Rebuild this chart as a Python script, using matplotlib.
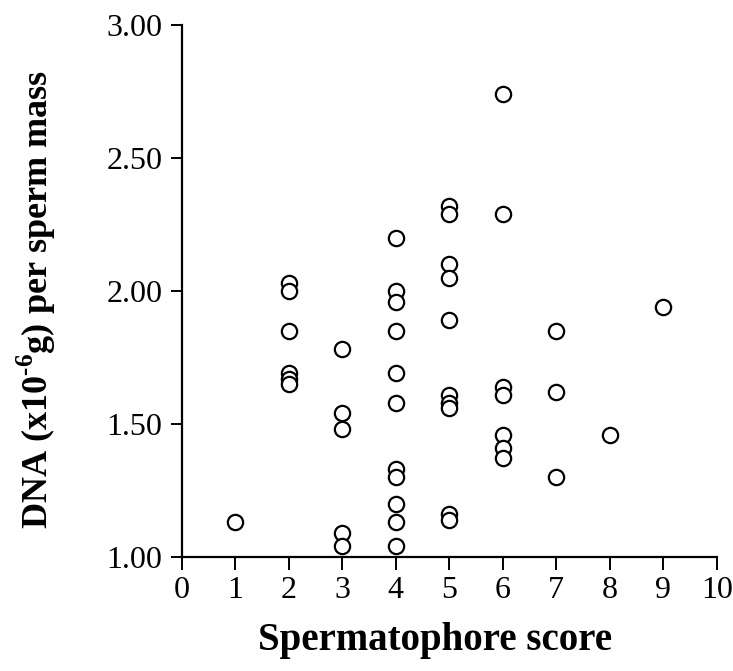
import numpy as np
import matplotlib
matplotlib.use('Agg')
import matplotlib.pyplot as plt

# 서체 설정 (Times 비슷한 세리프)
plt.rcParams['font.family'] = 'Liberation Serif'
plt.rcParams['mathtext.fontset'] = 'custom'
plt.rcParams['mathtext.rm'] = 'Liberation Serif:bold'
plt.rcParams['mathtext.bf'] = 'Liberation Serif:bold'

# 데이터: 점수별 DNA 값
score_1 = [1.13]
score_2 = [2.03, 2.00, 1.85, 1.69, 1.67, 1.65]
score_3 = [1.78, 1.54, 1.48, 1.09, 1.04]
score_4 = [2.20, 2.00, 1.96, 1.85, 1.69, 1.58, 1.33, 1.30, 1.20, 1.13, 1.04]
score_5 = [2.32, 2.29, 2.10, 2.05, 1.89, 1.61, 1.58, 1.56, 1.16, 1.14]
score_6 = [2.74, 2.29, 1.64, 1.61, 1.46, 1.41, 1.37]
score_7 = [1.85, 1.62, 1.30]
score_8 = [1.46]
score_9 = [1.94]

groups = [score_1, score_2, score_3, score_4, score_5,
          score_6, score_7, score_8, score_9]
scores = [1, 2, 3, 4, 5, 6, 7, 8, 9]

x_vals = []
y_vals = []
for s, g in zip(scores, groups):
    x_vals += [s] * len(g)
    y_vals += g

fig = plt.figure(figsize=(7.33, 6.71), dpi=100)
ax = fig.add_axes([0.248, 0.170, 0.730, 0.793])

ax.plot(x_vals, y_vals, 'o', markersize=11, markerfacecolor='white',
        markeredgecolor='black', markeredgewidth=1.6, linestyle='none',
        clip_on=False, zorder=5)

ax.set_xlim(0, 10)
ax.set_ylim(1.0, 3.0)
ax.set_xticks(np.arange(0, 11, 1))
ax.set_yticks([1.0, 1.5, 2.0, 2.5, 3.0])
ax.set_yticklabels(['1.00', '1.50', '2.00', '2.50', '3.00'])

# 축 모양
ax.spines['top'].set_visible(False)
ax.spines['right'].set_visible(False)
ax.spines['left'].set_linewidth(1.6)
ax.spines['bottom'].set_linewidth(1.6)
ax.tick_params(axis='both', direction='out', width=1.4, labelsize=23)
ax.tick_params(axis='x', length=9, pad=5)
ax.tick_params(axis='y', length=8, pad=6)

fig.text(0.593, 0.046, 'Spermatophore score', ha='center', va='center',
         fontsize=28, fontweight='bold')
fig.text(0.050, 0.553, r'DNA (x10$^{\text{-6}}$g) per sperm mass',
         ha='center', va='center', rotation=90, fontsize=26,
         fontweight='bold')

fig.savefig('out.png', dpi=100)
